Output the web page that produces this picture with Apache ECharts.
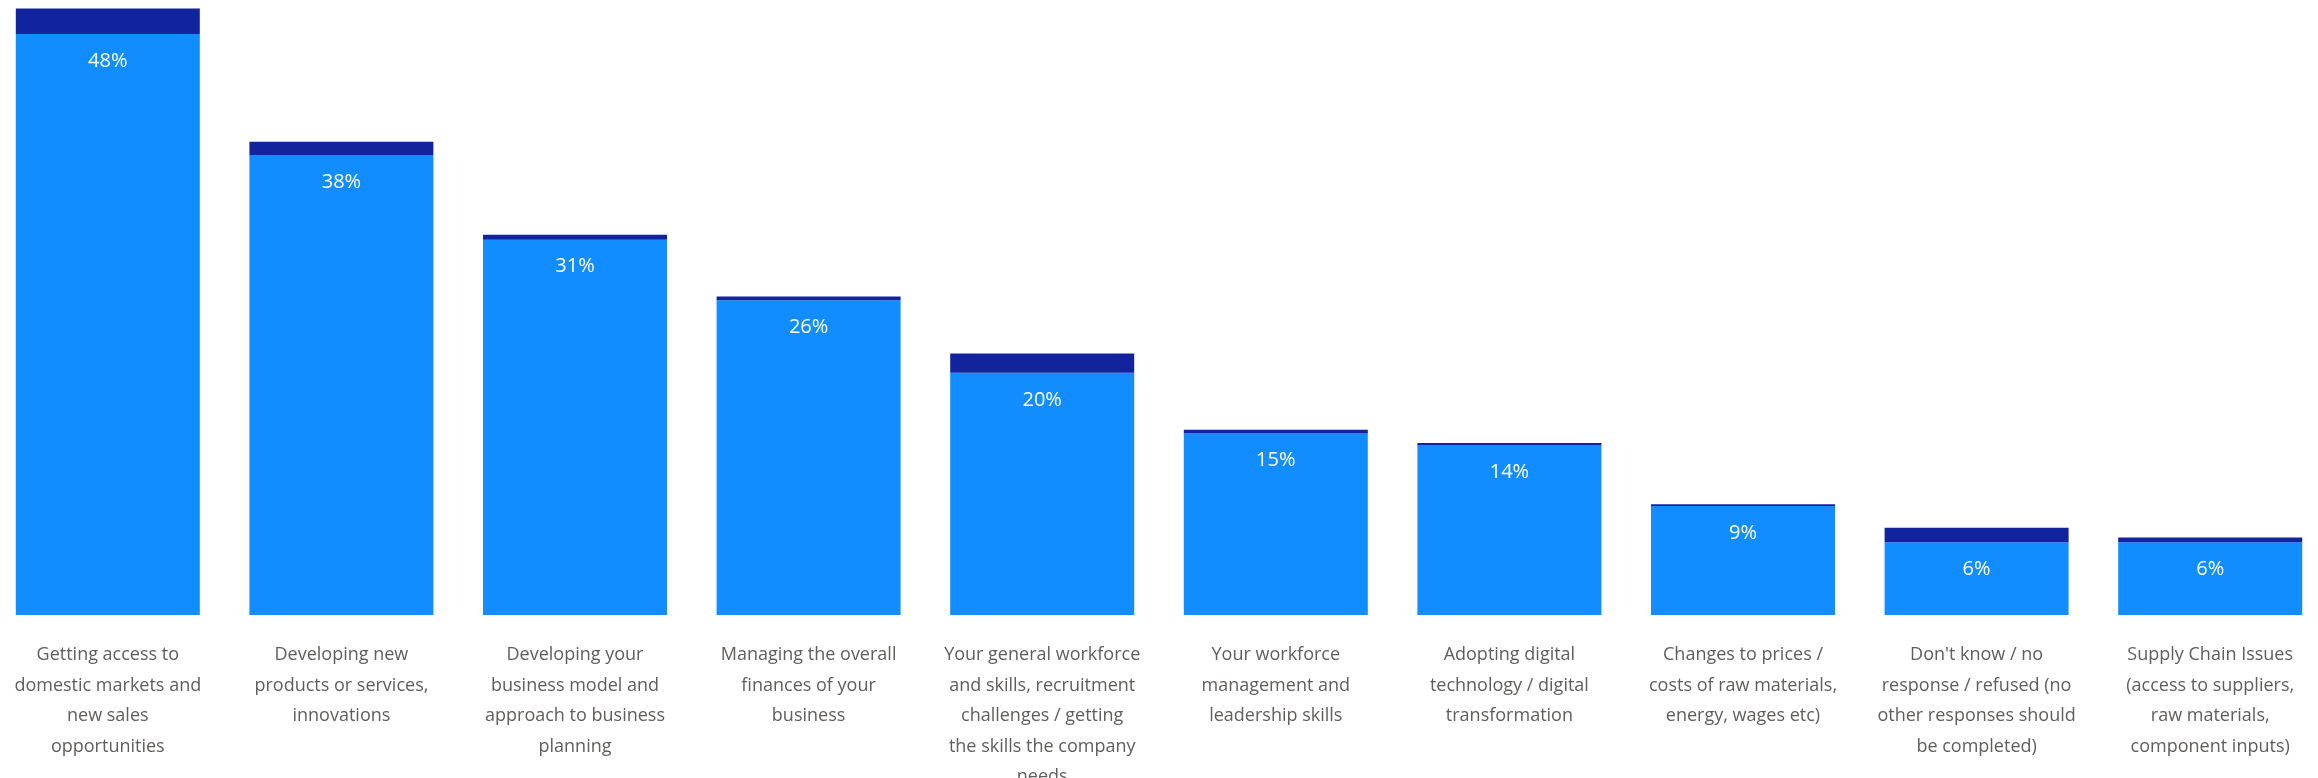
<!DOCTYPE html>
<html>
<head>
<meta charset="utf-8">
<script src="https://cdn.jsdelivr.net/npm/echarts@6/dist/echarts.min.js"></script>
<style>
  html, body { margin: 0; padding: 0; background: #ffffff; overflow: hidden; }
  #chart { width: 2318px; height: 778px; }
</style>
</head>
<body>
<div id="chart"></div>
<script>
// Business support needs: share of respondents per topic (%)
const categories = [
  'Getting access to\ndomestic markets and\nnew sales\nopportunities',
  'Developing new\nproducts or services,\ninnovations',
  'Developing your\nbusiness model and\napproach to business\nplanning',
  'Managing the overall\nfinances of your\nbusiness',
  'Your general workforce\nand skills, recruitment\nchallenges / getting\nthe skills the company\nneeds',
  'Your workforce\nmanagement and\nleadership skills',
  'Adopting digital\ntechnology / digital\ntransformation',
  'Changes to prices /\ncosts of raw materials,\nenergy, wages etc)',
  'Don\'t know / no\nresponse / refused (no\nother responses should\nbe completed)',
  'Supply Chain Issues\n(access to suppliers,\nraw materials,\ncomponent inputs)'
];

// Main share (labelled) and the smaller stacked share on top
const mainShare = [48, 38, 31, 26, 20, 15, 14, 9, 6, 6];
const extraShare = [2.1, 1.1, 0.4, 0.3, 1.6, 0.3, 0.2, 0.15, 1.2, 0.4];

const chart = echarts.init(document.getElementById('chart'));

chart.setOption({
  animation: false,
  backgroundColor: '#ffffff',
  grid: {
    left: -9, right: -9, top: 0, bottom: 163,
    containLabel: false,
    outerBoundsMode: 'none'
  },
  xAxis: {
    type: 'category',
    data: categories,
    axisLine: { show: false },
    axisTick: { show: false },
    axisLabel: {
      interval: 0,
      margin: 25,
      color: '#605E5C',
      fontFamily: 'Open Sans',
      fontSize: 18,
      lineHeight: 30.5,
      align: 'center'
    }
  },
  yAxis: {
    type: 'value',
    min: 0,
    max: 50.8,
    show: false,
    splitLine: { show: false }
  },
  series: [
    {
      name: 'Main',
      type: 'bar',
      stack: 'total',
      data: mainShare,
      barWidth: 184,
      itemStyle: { color: '#118DFF' },
      label: {
        show: true,
        position: 'insideTop',
        distance: 17,
        color: '#ffffff',
        fontFamily: 'Open Sans',
        fontSize: 20,
        formatter: function (p) { return p.value + '%'; }
      }
    },
    {
      name: 'Extra',
      type: 'bar',
      stack: 'total',
      data: extraShare,
      barWidth: 184,
      itemStyle: { color: '#12239E' }
    }
  ]
});
</script>
</body>
</html>
